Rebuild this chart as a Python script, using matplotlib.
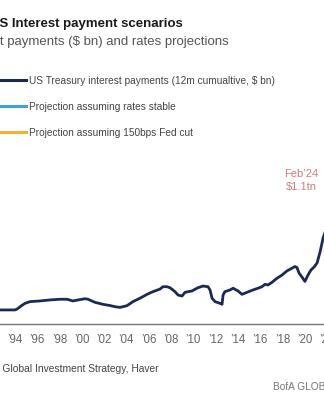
import numpy as np
import matplotlib
matplotlib.use('Agg')
import matplotlib.pyplot as plt
from matplotlib.lines import Line2D

plt.rcParams['font.family'] = ['Liberation Sans', 'DejaVu Sans']

# US Treasury interest payments, 12m cumulative ($ bn)
years = [1992.65, 1994.0, 1994.18, 1994.54, 1994.9, 1995.35, 1996.24, 1997.14, 1998.04,
         1998.66, 1999.2, 1999.65, 2000.28, 2000.55, 2001.17, 2001.89, 2002.52, 2002.97,
         2003.42, 2004.04, 2004.58, 2005.21, 2005.84, 2006.38, 2007.0, 2007.27, 2007.63,
         2007.9, 2008.35, 2008.62, 2008.98, 2009.25, 2009.87, 2010.41, 2010.86, 2011.31,
         2011.49, 2011.67, 2011.94, 2012.39, 2012.57, 2012.66, 2012.83, 2013.29, 2013.56,
         2014.0, 2014.36, 2014.81, 2015.35, 2015.79, 2016.15, 2016.42, 2016.69, 2017.05,
         2017.5, 2017.95, 2018.39, 2018.84, 2019.11, 2019.29, 2019.47, 2019.74, 2020.0,
         2020.28, 2020.55, 2020.82, 2021.09, 2021.36, 2021.63, 2022.0, 2022.5, 2023.0,
         2023.5, 2024.1]
payments = [283, 283, 288, 306, 322, 332, 336, 342, 346,
            346, 336, 342, 349, 346, 328, 316, 309, 302,
            298, 308, 332, 352, 375, 391, 406, 420, 420,
            414, 391, 371, 365, 387, 395, 414, 424, 420,
            401, 352, 332, 322, 316, 371, 391, 401, 411,
            395, 375, 387, 401, 411, 420, 434, 430, 446,
            470, 489, 513, 529, 539, 533, 501, 477, 451,
            489, 519, 536, 560, 625, 707, 780, 850, 920,
            1000, 1100]

# projections from Feb'24 (off the visible crop)
proj_years = [2024.1, 2024.5, 2025.0, 2025.9]
proj_stable = [1100, 1250, 1400, 1600]
proj_cut = [1100, 1180, 1250, 1300]

tick_years = list(range(1990, 2027, 2))
tick_labels = ['\u2019%02d' % (y % 100) for y in tick_years]

NAVY = '#1b2a55'
BLUE = '#3ba3d6'
ORANGE = '#f2b134'

fig = plt.figure(figsize=(3.24, 4.0), dpi=100)
fig.patch.set_facecolor('white')

ax = fig.add_axes([-40/324, 76/400, 420/324, 174/400])
ax.plot(years, payments, color=NAVY, lw=2.0, solid_joinstyle='round')
ax.plot(proj_years, proj_stable, color=BLUE, lw=2.0)
ax.plot(proj_years, proj_cut, color=ORANGE, lw=2.0)
ax.set_xlim(1994 - 55/11.15, 1994 + 365/11.15)
ax.set_ylim(200, 200 + 174*5.9)

for s in ['top', 'left', 'right']:
    ax.spines[s].set_visible(False)
ax.spines['bottom'].set_color('#777777')
ax.spines['bottom'].set_linewidth(1.0)
ax.set_yticks([])
ax.set_xticks(tick_years)
ax.set_xticklabels(tick_labels)
ax.tick_params(axis='x', length=0, pad=7, labelsize=8.3, labelcolor='#666666')

ax.annotate("Feb\u201924\n$1.1tn", xy=(2024.1, 1100), xytext=(-49, -9),
            textcoords='offset pixels', ha='center', va='center',
            fontsize=8, color='#d9787c', linespacing=1.35)

handles = [Line2D([], [], color=NAVY, lw=2.2),
           Line2D([], [], color=BLUE, lw=2.2),
           Line2D([], [], color=ORANGE, lw=2.2)]
labels = ['US Treasury interest payments (12m cumualtive, $ bn)',
          'Projection assuming rates stable',
          'Projection assuming 150bps Fed cut']
fig.legend(handles, labels, loc='upper left', bbox_to_anchor=(-11/324, 1 - 75.5/400),
           frameon=False, fontsize=7.3, handlelength=3.6, handletextpad=0.3,
           labelspacing=1.58, borderpad=0, borderaxespad=0, labelcolor='#444444')

renderer = fig.canvas.get_renderer()


def put_text(full, visible, x_px, y_px, **kw):
    # place full text so that the 'visible' tail starts at x_px
    t = fig.text(0, 0, full, va='baseline', ha='left', **kw)
    wf = t.get_window_extent(renderer).width
    t.set_text(visible)
    wv = t.get_window_extent(renderer).width
    t.set_text(full)
    t.set_position(((x_px - (wf - wv)) / 324, 1 - y_px / 400))
    return t


put_text('US Interest payment scenarios', 'S Interest payment scenarios', 0, 27,
         fontsize=9.5, fontweight='bold', color='#1a1a1a')
put_text('US interest payments ($ bn) and rates projections',
         't payments ($ bn) and rates projections', 0, 45,
         fontsize=9.5, color='#555555')
put_text('Source: BofA Global Investment Strategy, Haver',
         'Global Investment Strategy, Haver', 2, 372,
         fontsize=7.4, color='#444444')
fig.text(273/324, 1 - 390/400, 'BofA GLOBAL RESEARCH', fontsize=7.3,
         color='#777777', va='baseline', ha='left')

fig.savefig('out.png', dpi=100)
